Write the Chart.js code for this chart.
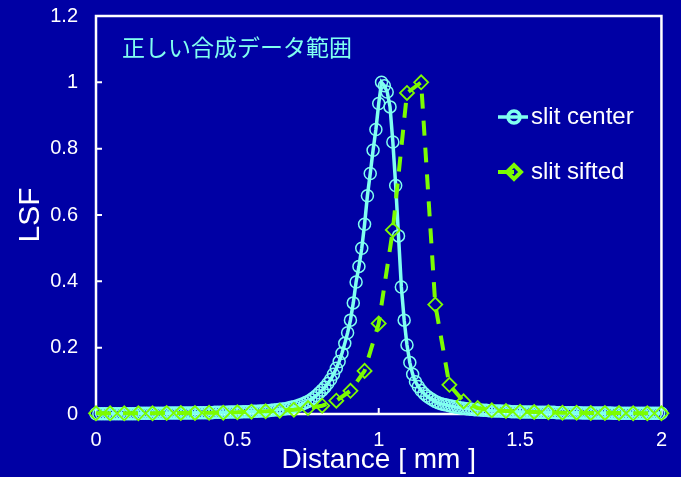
<!DOCTYPE html>
<html>
<head>
<meta charset="utf-8">
<script src="https://cdn.jsdelivr.net/npm/chart.js@4.4.0/dist/chart.umd.min.js"></script>
<style>
  html, body { margin: 0; padding: 0; background: #0000a4; }
  #wrap { width: 681px; height: 477px; }
</style>
</head>
<body>
<div id="wrap"><canvas id="chart" width="681" height="477"></canvas></div>
<script>
const FONT = "'Liberation Sans', Arial, sans-serif";
const CENTER_COLOR = "#80fff0";
const SIFTED_COLOR = "#7cfc00";

const chartTitle = "正しい合成データ範囲";
const xTitle = "Distance [ mm ]";
const yTitle = "LSF";
const seriesNames = ["slit center", "slit sifted"];

// slit center: one point every 0.01 mm
const centerX = [
  0.00, 0.01, 0.02, 0.03, 0.04, 0.05, 0.06, 0.07, 0.08, 0.09,
  0.10, 0.11, 0.12, 0.13, 0.14, 0.15, 0.16, 0.17, 0.18, 0.19,
  0.20, 0.21, 0.22, 0.23, 0.24, 0.25, 0.26, 0.27, 0.28, 0.29,
  0.30, 0.31, 0.32, 0.33, 0.34, 0.35, 0.36, 0.37, 0.38, 0.39,
  0.40, 0.41, 0.42, 0.43, 0.44, 0.45, 0.46, 0.47, 0.48, 0.49,
  0.50, 0.51, 0.52, 0.53, 0.54, 0.55, 0.56, 0.57, 0.58, 0.59,
  0.60, 0.61, 0.62, 0.63, 0.64, 0.65, 0.66, 0.67, 0.68, 0.69,
  0.70, 0.71, 0.72, 0.73, 0.74, 0.75, 0.76, 0.77, 0.78, 0.79,
  0.80, 0.81, 0.82, 0.83, 0.84, 0.85, 0.86, 0.87, 0.88, 0.89,
  0.90, 0.91, 0.92, 0.93, 0.94, 0.95, 0.96, 0.97, 0.98, 0.99,
  1.00, 1.01, 1.02, 1.03, 1.04, 1.05, 1.06, 1.07, 1.08, 1.09,
  1.10, 1.11, 1.12, 1.13, 1.14, 1.15, 1.16, 1.17, 1.18, 1.19,
  1.20, 1.21, 1.22, 1.23, 1.24, 1.25, 1.26, 1.27, 1.28, 1.29,
  1.30, 1.31, 1.32, 1.33, 1.34, 1.35, 1.36, 1.37, 1.38, 1.39,
  1.40, 1.41, 1.42, 1.43, 1.44, 1.45, 1.46, 1.47, 1.48, 1.49,
  1.50, 1.51, 1.52, 1.53, 1.54, 1.55, 1.56, 1.57, 1.58, 1.59,
  1.60, 1.61, 1.62, 1.63, 1.64, 1.65, 1.66, 1.67, 1.68, 1.69,
  1.70, 1.71, 1.72, 1.73, 1.74, 1.75, 1.76, 1.77, 1.78, 1.79,
  1.80, 1.81, 1.82, 1.83, 1.84, 1.85, 1.86, 1.87, 1.88, 1.89,
  1.90, 1.91, 1.92, 1.93, 1.94, 1.95, 1.96, 1.97, 1.98, 1.99,
  2.00
];
const centerLsf = [
  0.001, 0.001, 0.001, 0.001, 0.001, 0.001, 0.001, 0.001, 0.001, 0.001,
  0.001, 0.001, 0.001, 0.001, 0.001, 0.002, 0.002, 0.002, 0.002, 0.002,
  0.002, 0.002, 0.002, 0.002, 0.002, 0.003, 0.003, 0.003, 0.003, 0.003,
  0.003, 0.003, 0.003, 0.003, 0.003, 0.004, 0.004, 0.004, 0.004, 0.004,
  0.004, 0.004, 0.005, 0.005, 0.005, 0.005, 0.005, 0.006, 0.006, 0.006,
  0.006, 0.006, 0.007, 0.007, 0.007, 0.008, 0.008, 0.008, 0.009, 0.009,
  0.010, 0.010, 0.011, 0.012, 0.013, 0.014, 0.015, 0.016, 0.018, 0.020,
  0.022, 0.024, 0.027, 0.030, 0.034, 0.038, 0.043, 0.049, 0.056, 0.064,
  0.072, 0.081, 0.092, 0.104, 0.120, 0.138, 0.158, 0.183, 0.213, 0.245,
  0.283, 0.335, 0.398, 0.445, 0.500, 0.572, 0.658, 0.725, 0.795, 0.858,
  0.936, 1.000, 0.990, 0.971, 0.926, 0.820, 0.689, 0.537, 0.383, 0.283,
  0.208, 0.155, 0.120, 0.097, 0.083, 0.071, 0.062, 0.054, 0.048, 0.043,
  0.038, 0.034, 0.031, 0.029, 0.027, 0.025, 0.023, 0.021, 0.020, 0.018,
  0.017, 0.016, 0.015, 0.014, 0.013, 0.013, 0.012, 0.011, 0.011, 0.010,
  0.010, 0.009, 0.009, 0.009, 0.008, 0.008, 0.008, 0.007, 0.007, 0.007,
  0.006, 0.006, 0.006, 0.006, 0.006, 0.005, 0.005, 0.005, 0.005, 0.005,
  0.005, 0.005, 0.005, 0.004, 0.004, 0.004, 0.004, 0.004, 0.004, 0.004,
  0.004, 0.004, 0.003, 0.003, 0.003, 0.003, 0.003, 0.003, 0.003, 0.003,
  0.003, 0.003, 0.003, 0.002, 0.002, 0.002, 0.002, 0.002, 0.002, 0.002,
  0.002, 0.002, 0.002, 0.002, 0.002, 0.002, 0.002, 0.002, 0.002, 0.002,
  0.002
];

// slit sifted: one point every 0.05 mm
const siftedX = [
  0.00, 0.05, 0.10, 0.15, 0.20, 0.25, 0.30, 0.35, 0.40, 0.45,
  0.50, 0.55, 0.60, 0.65, 0.70, 0.75, 0.80, 0.85, 0.90, 0.95,
  1.00, 1.05, 1.10, 1.15, 1.20, 1.25, 1.30, 1.35, 1.40, 1.45,
  1.50, 1.55, 1.60, 1.65, 1.70, 1.75, 1.80, 1.85, 1.90, 1.95,
  2.00
];
const siftedLsf = [
  0.002, 0.002, 0.002, 0.002, 0.002, 0.003, 0.003, 0.003, 0.004, 0.004,
  0.005, 0.007, 0.008, 0.010, 0.013, 0.018, 0.025, 0.040, 0.070, 0.130,
  0.273, 0.555, 0.968, 1.000, 0.330, 0.088, 0.038, 0.018, 0.011, 0.009,
  0.007, 0.006, 0.005, 0.004, 0.004, 0.003, 0.003, 0.003, 0.002, 0.002,
  0.002
];

function toPoints(xs, ys) {
  return xs.map((x, i) => ({ x, y: ys[i] }));
}

function tickText(value) {
  return String(Number(value.toFixed(1)));
}

// white box round the plot, with short tick marks pointing inwards
const framePlugin = {
  id: "frame",
  beforeDatasetsDraw(chart) {
    const { ctx, chartArea: a, scales } = chart;
    ctx.save();
    ctx.strokeStyle = "#ffffff";
    ctx.lineWidth = 2.5;
    ctx.strokeRect(a.left, a.top, a.right - a.left, a.bottom - a.top);
    ctx.lineWidth = 2;
    ctx.beginPath();
    for (const t of scales.y.ticks) {
      const y = scales.y.getPixelForValue(t.value);
      ctx.moveTo(a.left, y);
      ctx.lineTo(a.left + 6, y);
    }
    for (const t of scales.x.ticks) {
      const x = scales.x.getPixelForValue(t.value);
      ctx.moveTo(x, a.bottom);
      ctx.lineTo(x, a.bottom - 6);
    }
    ctx.stroke();
    ctx.restore();
  },
};

// caption and legend sit inside the plot area
const overlayPlugin = {
  id: "overlay",
  afterDraw(chart) {
    const { ctx, chartArea: a } = chart;
    ctx.save();
    ctx.fillStyle = CENTER_COLOR;
    ctx.font = "23px 'Noto Sans CJK JP', sans-serif";
    ctx.textBaseline = "middle";
    ctx.textAlign = "left";
    ctx.fillText(chartTitle, a.left + 26, a.top + 31);

    const rows = [117, 172];
    chart.data.datasets.forEach((ds, i) => {
      const y = rows[i];
      const x0 = a.left + 402;
      ctx.strokeStyle = ds.borderColor;
      ctx.lineWidth = ds.borderWidth;
      ctx.setLineDash([]);
      ctx.beginPath();
      ctx.moveTo(x0, y);
      ctx.lineTo(x0 + (i === 0 ? 30 : 16), y);
      ctx.stroke();
      ctx.strokeStyle = ds.pointBorderColor;
      ctx.fillStyle = "rgba(0,0,0,0)";
      Chart.helpers.drawPoint(ctx, {
        pointStyle: ds.pointStyle,
        radius: ds.pointRadius,
        borderWidth: ds.pointBorderWidth,
        rotation: 0,
      }, x0 + 16, y);
      ctx.fillStyle = "#ffffff";
      ctx.font = "24px " + FONT;
      ctx.fillText(ds.label, x0 + 33, y);
    });
    ctx.restore();
  },
};

const ctx = document.getElementById("chart").getContext("2d");
new Chart(ctx, {
  type: "line",
  data: {
    datasets: [
      {
        label: seriesNames[0],
        data: toPoints(centerX, centerLsf),
        borderColor: CENTER_COLOR,
        borderWidth: 3.5,
        pointStyle: "circle",
        pointRadius: 6,
        pointBorderWidth: 1.5,
        pointBorderColor: CENTER_COLOR,
        pointBackgroundColor: "rgba(0,0,0,0)",
        tension: 0,
        clip: false,
        order: 1,
      },
      {
        label: seriesNames[1],
        data: toPoints(siftedX, siftedLsf),
        borderColor: SIFTED_COLOR,
        borderWidth: 4,
        borderDash: [15, 12],
        pointStyle: "rectRot",
        pointRadius: 7,
        pointBorderWidth: 1.8,
        pointBorderColor: SIFTED_COLOR,
        pointBackgroundColor: "rgba(0,0,0,0)",
        tension: 0,
        clip: false,
        order: 0,
      },
    ],
  },
  options: {
    responsive: false,
    animation: false,
    devicePixelRatio: 1,
    layout: { padding: { left: 0, right: 13, top: 16, bottom: 0 } },
    plugins: {
      legend: { display: false },
      tooltip: { enabled: false },
    },
    scales: {
      x: {
        type: "linear",
        min: 0,
        max: 2,
        ticks: { stepSize: 0.5, color: "#ffffff", font: { family: FONT, size: 20 }, padding: 14, callback: tickText },
        grid: { display: false, drawTicks: false },
        border: { display: false },
        title: { display: true, text: xTitle, color: "#ffffff", font: { family: FONT, size: 28 }, padding: { top: 0, bottom: 0 } },
        afterFit: (scale) => { scale.height = 63; },
      },
      y: {
        type: "linear",
        min: 0,
        max: 1.2,
        ticks: { stepSize: 0.2, color: "#ffffff", font: { family: FONT, size: 20 }, padding: 18, callback: tickText },
        grid: { display: false, drawTicks: false },
        border: { display: false },
        title: { display: true, text: yTitle, color: "#ffffff", font: { family: FONT, size: 30 }, padding: { top: 13, bottom: 0 } },
        afterFit: (scale) => {
          scale.width = 96;
          scale.paddingTop = 0;
          scale.paddingBottom = 0;
        },
      },
    },
  },
  plugins: [framePlugin, overlayPlugin],
});
</script>
</body>
</html>
